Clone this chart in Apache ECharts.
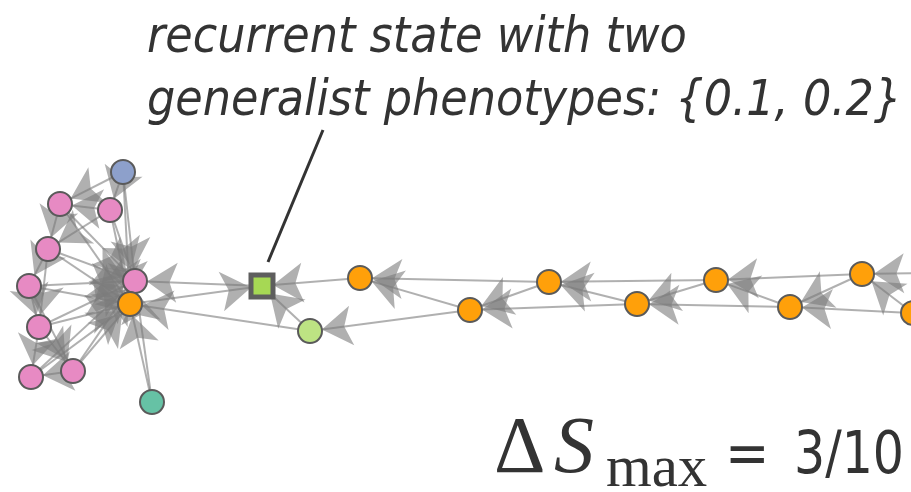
<!DOCTYPE html>
<html><head><meta charset="utf-8">
<script src="https://cdn.jsdelivr.net/npm/echarts@6/dist/echarts.min.js"></script>
<style>html,body{margin:0;padding:0;background:#fff}#c{width:911px;height:492px}</style>
</head><body><div id="c"></div>
<script>
// Node data (layout coordinates)
const nodeNames = ['n0','n1','n2','n3','n4','n5','n6','n7','n8','n9','n10','n11','n12','n13','n14','n15','n16','n17','n18','n19','n20','n21','n22'];
const nodeX = [123, 60, 110, 48, 29, 135, 130, 39, 31, 73, 152, 262, 310, 360, 470, 549, 637, 716, 790, 862, 913, 990, 1000];
const nodeY = [172, 204, 210, 249, 286, 281, 304, 327, 377, 371, 402, 286, 331, 278, 310, 282, 304, 280, 307, 274, 313, 272, 318];
const nodeGroup = ['blue','pink','pink','pink','pink','pink','orange','pink','pink','pink','teal','square','green','orange','orange','orange','orange','orange','orange','orange','orange','orange','orange'];
// Directed edges (source -> target indices)
const edgeSource = [0,0,0,0, 2,2,2,2, 1,1,1, 3,3,3,3, 4,4,4,4, 7,7,7,7, 9,9,9, 8,8, 10,10, 6,11,12,12,13, 14,14,15,15,16,16,17,17,18,18,19,19,20,20,21,21,22,22];
const edgeTarget = [2,1,6,5, 1,3,6,5, 3,6,5, 4,6,5,7, 7,6,5,9, 8,9,6,5, 8,6,5, 6,5, 6,5, 11,5,11,6,11, 12,13,13,14,14,15,15,16,16,17,17,18,18,19,19,20,20,21];
const annotationLines = ['recurrent state with two', 'generalist phenotypes: {0.1, 0.2}'];
const deltaLabel = ['Δ', 'S', 'max', '=', '3/10'];

const groupColor = {pink:'#e78ac3', blue:'#8da0cb', orange:'#ffa00a', teal:'#66c2a5', green:'#bde383', square:'#a6d854'};

const chart = echarts.init(document.getElementById('c'), null, {renderer:'canvas'});
const nodes = nodeNames.map((n,i)=>{
  const g = nodeGroup[i];
  const sq = g === 'square';
  return {
    name: n, value: [nodeX[i], nodeY[i]],
    symbol: sq ? 'rect' : 'circle',
    symbolSize: sq ? 22 : 24,
    itemStyle: { color: groupColor[g], borderColor: sq ? '#5e5e5e' : '#5a5a5a', borderWidth: sq ? 5 : 2, opacity: 1 }
  };
});
const links = edgeSource.map((s,i)=>({source: s, target: edgeTarget[i]}));

function txt(str, x, yc, font, sx, align) {
  return {type:'text', x:x, y:yc, scaleX:sx, originX:0, originY:0,
    style:{text:str, x:0, y:0, font:font, fill:'#333', align:align||'left', verticalAlign:'middle'}, z:6};
}

chart.setOption({
  animation: false,
  grid: {left:0, right:0, top:0, bottom:0},
  xAxis: {type:'value', min:0, max:911, show:false},
  yAxis: {type:'value', min:0, max:492, inverse:true, show:false},
  series: [{
    type: 'graph',
    coordinateSystem: 'cartesian2d',
    layout: 'none',
    data: nodes,
    links: links,
    edgeSymbol: ['none','arrow'],
    edgeSymbolSize: [0, 30],
    lineStyle: {color:'#7c7c7c', width:2, opacity:0.6, curveness:0},
    label: {show:false},
    emphasis: {disabled:true},
    z: 2
  }],
  graphic: [
    {type:'line', shape:{x1:323, y1:130, x2:268, y2:262}, style:{stroke:'#333', lineWidth:3}, z:5},
    txt(annotationLines[0], 147, 39, 'italic 49px "DejaVu Sans"', 0.91),
    txt(annotationLines[1], 147, 102, 'italic 49px "DejaVu Sans"', 0.91),
    txt(deltaLabel[0], 494, 451, '80px "Liberation Serif"', 1),
    txt(deltaLabel[1], 554, 451, 'italic 80px "Liberation Serif"', 1),
    txt(deltaLabel[2], 606, 470, '60px "Liberation Serif"', 0.98),
    txt(deltaLabel[3], 725, 458, '59px "DejaVu Sans"', 0.9),
    txt(deltaLabel[4], 904, 458, '59px "DejaVu Sans"', 0.83, 'right')
  ]
});
</script></body></html>
